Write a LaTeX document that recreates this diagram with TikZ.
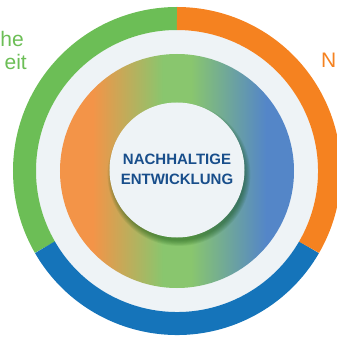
\documentclass[tikz,border=0pt]{standalone}
\usepackage{fontspec}
\setmainfont{Liberation Sans}

\definecolor{ringgreen}{RGB}{108,190,86}
\definecolor{ringorange}{RGB}{245,130,32}
\definecolor{ringblue}{RGB}{21,116,186}
\definecolor{lightbg}{RGB}{238,243,246}
\definecolor{bandorange}{RGB}{243,148,72}
\definecolor{bandgreen}{RGB}{137,198,110}
\definecolor{bandblue}{RGB}{84,134,200}
\definecolor{titleblue}{RGB}{24,78,139}

\pgfdeclarehorizontalshading{rainbowband}{100bp}{color(0bp)=(bandorange); color(32bp)=(bandorange);
	color(47bp)=(bandgreen); color(53bp)=(bandgreen); color(69bp)=(bandblue); color(100bp)=(bandblue)}

\begin{document}
\begin{tikzpicture}[ringpart/.style={line width=23pt},
							sidetext/.style={font=\fontsize{21}{23}\selectfont, inner sep=0pt}]
			\useasboundingbox (-177pt,-166pt) rectangle (160pt,171pt);

			% background disc and the three ring parts
			\fill[lightbg] (0,0) circle (141pt);
			\draw[ringpart, ringgreen] (90:152.5pt) arc[start angle=90, end angle=210, radius=152.5pt];
			\draw[ringpart, ringblue] (210:152.5pt) arc[start angle=210, end angle=330, radius=152.5pt];
			\draw[ringpart, ringorange] (-30:152.5pt) arc[start angle=-30, end angle=90, radius=152.5pt];

			% colour band
			\shade[shading=rainbowband] (0,0) circle (117pt);

			% soft shadow and centre disc
			\foreach \r in {0,...,6}
				\fill[black!75!green, opacity=0.07] (2pt,-3.5pt) circle[radius=66pt+\r*0.9pt];
			\fill[lightbg] (0,1pt) circle (67.5pt);

			\node[font=\bfseries\fontsize{15}{20}\selectfont, text=titleblue, align=center] (Title) at (0,1.5pt)
				{NACHHALTIGE\\ENTWICKLUNG};

			\begin{scope}[nodes = {sidetext}]
				\node[text=ringgreen, anchor=base east] (ecoA) at (-153pt,124pt) {he};
				\node[text=ringgreen, anchor=base east] (ecoB) at (-150pt,101pt) {eit};
				\node[text=ringorange, anchor=base east] (econ) at (159.5pt,103pt) {N};
			\end{scope}

		\end{tikzpicture}
\end{document}
